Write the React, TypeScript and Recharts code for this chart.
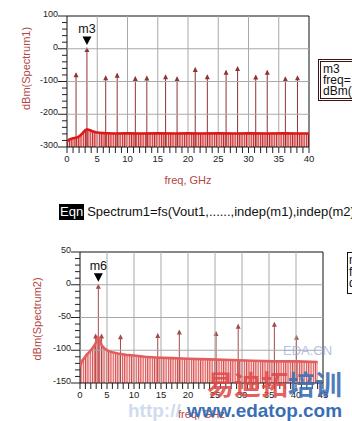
import React from "react";
import {
  ComposedChart,
  Bar,
  Area,
  Line,
  XAxis,
  YAxis,
  ReferenceLine,
  ReferenceArea,
  ReferenceDot,
  Label,
} from "recharts";

// Spectrum1: discrete tones (freq GHz, dBm) and the noise floor
const toneFreq1 = [1.5, 3.3, 6.4, 8.3, 11.3, 13.2, 16.3, 18.2, 21.2, 23.2, 26.3, 28.2, 31.2, 33.1, 36.1, 38.1];
const toneDbm1 = [-75, 2, -84, -76, -86, -85, -81, -87, -59, -81, -67, -56, -82, -67, -87, -84];
const floorFreq1 = [0, 0.5, 1, 1.5, 2, 2.5, 3, 3.3, 3.7, 4.2, 4.8, 5.5, 6.5, 8, 10, 12, 15, 18, 20, 22, 25, 28, 30, 33, 36, 38, 40];
const floorDbm1 = [-282, -276, -273, -272, -268, -259, -249, -246, -248, -252, -255, -257, -258, -259, -258, -259, -258, -259, -258, -259, -258, -259, -258, -259, -258, -259, -259];
const xLabels1 = [0, 5, 10, 15, 20, 25, 30, 35, 40];
const yLabels1 = [-300, -200, -100, 0, 100];

// Spectrum2
const toneFreq2 = [2.9, 3.4, 4.0, 7.5, 14.4, 18.4, 25.2, 29.3, 36.0, 40.1];
const toneDbm2 = [-76, 0, -76, -77, -75, -70, -72, -61, -58, -78];
const floorFreq2 = [0, 0.4, 0.8, 1.2, 1.8, 2.3, 2.8, 3.1, 3.4, 3.7, 4.0, 4.5, 5.2, 6, 7, 8.5, 10, 12, 14, 17, 20, 24, 28, 32, 36, 40, 44];
const floorDbm2 = [-125, -116, -112, -107, -102, -97, -91, -85, -80, -85, -92, -97, -101, -103, -105, -107, -108, -110, -111, -112, -113, -114, -115, -116, -117, -117, -118];
const xLabels2 = [0, 5, 10, 15, 20, 25, 30, 35, 40, 45];
const yLabels2 = [-150, -100, -50, 0, 50];

const steps = (from: number, to: number, step: number) => {
  const out: number[] = [];
  for (let v = from; v <= to + 1e-9; v += step) out.push(Math.round(v * 100) / 100);
  return out;
};

const tones1 = toneFreq1.map((f, i) => ({ f, v: toneDbm1[i] }));
const floor1 = floorFreq1.map((f, i) => ({ f, v: floorDbm1[i] }));
const tones2 = toneFreq2.map((f, i) => ({ f, v: toneDbm2[i] }));
const floor2 = floorFreq2.map((f, i) => ({ f, v: floorDbm2[i] }));

const FONT = "Arial, 'Liberation Sans', sans-serif";
const TITLE_RED = "#b44646";

function XTick({ x, y, payload, labels }: any) {
  const major = labels.includes(payload.value);
  return (
    <g>
      <line x1={x} x2={x} y1={y} y2={y + 6} stroke="#222" strokeWidth={1} />
      {major && (
        <text x={x} y={y + 15} textAnchor="middle" fontSize={9.5} fontFamily={FONT} fill="#222">
          {payload.value}
        </text>
      )}
    </g>
  );
}

function YTick({ x, y, payload, labels }: any) {
  const major = labels.includes(payload.value);
  return (
    <g>
      <line x1={major ? x - 9 : x - 5} x2={x} y1={y} y2={y} stroke="#222" strokeWidth={1} />
      {major && (
        <text x={x - 9} y={y + 1} textAnchor="end" fontSize={9} fontFamily={FONT} fill="#222">
          {payload.value}
        </text>
      )}
    </g>
  );
}

function Stem({ x, y, width, height, color }: any) {
  if (x == null || y == null) return null;
  const cx = x + width / 2;
  const top = Math.min(y, y + height);
  const bottom = Math.max(y, y + height);
  return (
    <g>
      <line x1={cx} x2={cx} y1={top} y2={bottom} stroke={color} strokeWidth={1} />
      <path d={`M${cx - 2.5},${top + 4} L${cx},${top - 1} L${cx + 2.5},${top + 4} Z`} fill={color} />
    </g>
  );
}

function Marker({ cx, cy, name }: any) {
  return (
    <g>
      <path d={`M${cx - 4.5},${cy - 11.5} L${cx + 4.5},${cy - 11.5} L${cx},${cy - 3} Z`} fill="#000" />
      <text x={cx} y={cy - 15} textAnchor="middle" fontSize={12.5} fontFamily={FONT} fill="#111">
        {name}
      </text>
    </g>
  );
}

function Hatch({ id, line, bg }: { id: string; line: string; bg: string }) {
  return (
    <defs>
      <pattern id={id} patternUnits="userSpaceOnUse" width={2.3} height={10}>
        <rect x={0} y={0} width={2.3} height={10} fill={bg} />
        <rect x={0} y={0} width={1.1} height={10} fill={line} />
      </pattern>
    </defs>
  );
}

type SpectrumProps = {
  tones: { f: number; v: number }[];
  floor: { f: number; v: number }[];
  xMax: number;
  yMin: number;
  yMax: number;
  yStep: number;
  yGrid: number;
  xLabels: number[];
  yLabels: number[];
  marker: { f: number; v: number; name: string };
  yTitle: string;
  hatchId: string;
  colors: { tone: string; floor: string; hatch: string; hatchBg: string };
  height: number;
  margin: { top: number; right: number; bottom: number; left: number };
  xAxisHeight: number;
  yTitleShift: number;
  yTitleX: number;
  xTitleY: number;
};

function Spectrum(p: SpectrumProps) {
  const xTicks = steps(0, p.xMax, 1);
  const yTicks = steps(p.yMin, p.yMax, p.yStep);
  const xGrid = p.xLabels.filter((v) => v > 0 && v < p.xMax);
  const yGrid = steps(p.yMin, p.yMax, p.yGrid).filter((v) => v > p.yMin && v < p.yMax);
  return (
    <ComposedChart width={352} height={p.height} data={p.tones} margin={p.margin}>
      <Hatch id={p.hatchId} line={p.colors.hatch} bg={p.colors.hatchBg} />
      {xGrid.map((v) => (
        <ReferenceLine key={"gx" + v} x={v} stroke="#a9a9a9" strokeWidth={1} />
      ))}
      {yGrid.map((v) => (
        <ReferenceLine key={"gy" + v} y={v} stroke="#a9a9a9" strokeWidth={1} />
      ))}
      <XAxis
        dataKey="f"
        type="number"
        domain={[0, p.xMax]}
        ticks={xTicks}
        interval={0}
        tickSize={0}
        tickMargin={0}
        axisLine={false}
        tickLine={false}
        height={p.xAxisHeight}
        allowDataOverflow
        tick={(t: any) => <XTick {...t} labels={p.xLabels} />}
      >
        <Label
          content={(l: any) => {
            const vb = l.viewBox || {};
            return (
              <text
                x={vb.x + vb.width / 2}
                y={vb.y + p.xTitleY}
                textAnchor="middle"
                fontSize={11}
                fontFamily={FONT}
                fill={TITLE_RED}
              >
                freq, GHz
              </text>
            );
          }}
        />
      </XAxis>
      <YAxis
        type="number"
        domain={[p.yMin, p.yMax]}
        ticks={yTicks}
        interval={0}
        tickSize={0}
        tickMargin={0}
        axisLine={false}
        tickLine={false}
        width={40}
        allowDataOverflow
        tick={(t: any) => <YTick {...t} labels={p.yLabels} />}
      >
        <Label
          content={(l: any) => {
            const vb = l.viewBox || {};
            const cx = vb.x + p.yTitleX;
            const cy = vb.y + vb.height / 2 + p.yTitleShift;
            return (
              <text
                x={cx}
                y={cy}
                transform={`rotate(-90 ${cx} ${cy})`}
                textAnchor="middle"
                fontSize={11}
                fontFamily={FONT}
                fill={TITLE_RED}
              >
                {p.yTitle}
              </text>
            );
          }}
        />
      </YAxis>
      <Area
        data={p.floor}
        dataKey={(d: any) => [p.yMin, d.v]}
        type="linear"
        stroke="none"
        fill={`url(#${p.hatchId})`}
        fillOpacity={1}
        isAnimationActive={false}
      />
      <Line
        data={p.floor}
        dataKey="v"
        type="linear"
        stroke={p.colors.floor}
        strokeWidth={2.6}
        dot={false}
        isAnimationActive={false}
      />
      <Bar
        dataKey={(d: any) => [p.yMin, d.v]}
        barSize={1}
        isAnimationActive={false}
        shape={(s: any) => <Stem {...s} color={p.colors.tone} />}
      />
      <ReferenceArea
        x1={0}
        x2={p.xMax}
        y1={p.yMin}
        y2={p.yMax}
        fill="none"
        stroke="#111"
        strokeWidth={1}
        ifOverflow="visible"
      />
      <ReferenceDot
        x={p.marker.f}
        y={p.marker.v}
        ifOverflow="visible"
        shape={(s: any) => <Marker {...s} name={p.marker.name} />}
      />
    </ComposedChart>
  );
}

export default function App() {
  return (
    <div
      style={{
        position: "absolute",
        left: 0,
        top: 0,
        width: 352,
        height: 421,
        overflow: "hidden",
        background: "#fff",
        fontFamily: FONT,
      }}
    >
      <div style={{ position: "absolute", left: 0, top: 0 }}>
        <Spectrum
          tones={tones1}
          floor={floor1}
          xMax={40}
          yMin={-300}
          yMax={100}
          yStep={20}
          yGrid={100}
          xLabels={xLabels1}
          yLabels={yLabels1}
          marker={{ f: 3.3, v: 2, name: "m3" }}
          yTitle="dBm(Spectrum1)"
          hatchId="hatch1"
          colors={{ tone: "#8e3434", floor: "#dc1818", hatch: "#cc2424", hatchBg: "#f5cccc" }}
          height={200}
          margin={{ top: 16, right: 43, bottom: 13, left: 27 }}
          xAxisHeight={40}
          yTitleShift={-13}
          yTitleX={2.5}
          xTitleY={36.5}
        />
      </div>

      {/* marker readout, cut by the page edge */}
      <div
        style={{
          position: "absolute",
          left: 318,
          top: 59,
          width: 60,
          height: 34,
          border: "3px double #3a1212",
          fontSize: 12,
          lineHeight: "11px",
          padding: "2px 0 0 2px",
          color: "#111",
        }}
      >
        m3
        <br />
        freq=
        <br />
        dBm(
      </div>

      <div style={{ position: "absolute", left: 59, top: 204, height: 16, display: "flex", alignItems: "center" }}>
        <span
          style={{
            background: "#000",
            color: "#fff",
            fontSize: 13,
            lineHeight: "16px",
            padding: "0 1px",
          }}
        >
          Eqn
        </span>
        <span style={{ fontSize: 13, lineHeight: "16px", marginLeft: 3, color: "#111", whiteSpace: "nowrap" }}>
          Spectrum1=fs(Vout1,......,indep(m1),indep(m2))
        </span>
      </div>

      <div style={{ position: "absolute", left: 0, top: 236 }}>
        <Spectrum
          tones={tones2}
          floor={floor2}
          xMax={45}
          yMin={-150}
          yMax={50}
          yStep={10}
          yGrid={50}
          xLabels={xLabels2}
          yLabels={yLabels2}
          marker={{ f: 3.4, v: 0, name: "m6" }}
          yTitle="dBm(Spectrum2)"
          hatchId="hatch2"
          colors={{ tone: "#a24c4c", floor: "#e25e5e", hatch: "#dc4a4a", hatchBg: "#fbe6e6" }}
          height={185}
          margin={{ top: 16, right: 29, bottom: 8, left: 40 }}
          xAxisHeight={30}
          yTitleShift={1.5}
          yTitleX={1}
          xTitleY={34.5}
        />
      </div>

      <div
        style={{
          position: "absolute",
          left: 347,
          top: 252,
          width: 30,
          height: 38,
          border: "1px solid #111",
          fontSize: 12,
          lineHeight: "11.5px",
          padding: "2px 0 0 1px",
          color: "#111",
        }}
      >
        m6
        <br />
        freq=
        <br />
        dBm(
      </div>

      {/* site watermark */}
      <svg width={352} height={421} style={{ position: "absolute", left: 0, top: 0, pointerEvents: "none" }}>
        <text x={283} y={355} fontSize={13} fontFamily={FONT} fill="#9aa6dc" opacity={0.7}>
          EDA.CN
        </text>
        <text x={207} y={395} fontSize={27} fontWeight="bold" fontFamily="'Noto Sans CJK SC'" fill="#e04646" opacity={0.85}>
          易迪拓
        </text>
        <text x={288} y={395} fontSize={27} fontWeight="bold" fontFamily="'Noto Sans CJK SC'" fill="#3d6fb4" opacity={0.9}>
          培训
        </text>
        <text x={128} y={417} fontSize={19} fontWeight="bold" fontFamily={FONT} fill="#c4d4ea" opacity={0.8}>
          http://
        </text>
        <text
          x={187}
          y={417}
          fontSize={19}
          fontWeight="bold"
          fontFamily={FONT}
          fill="#3a6fb5"
          textLength={155}
          lengthAdjust="spacingAndGlyphs"
        >
          www.edatop.com
        </text>
      </svg>
    </div>
  );
}
